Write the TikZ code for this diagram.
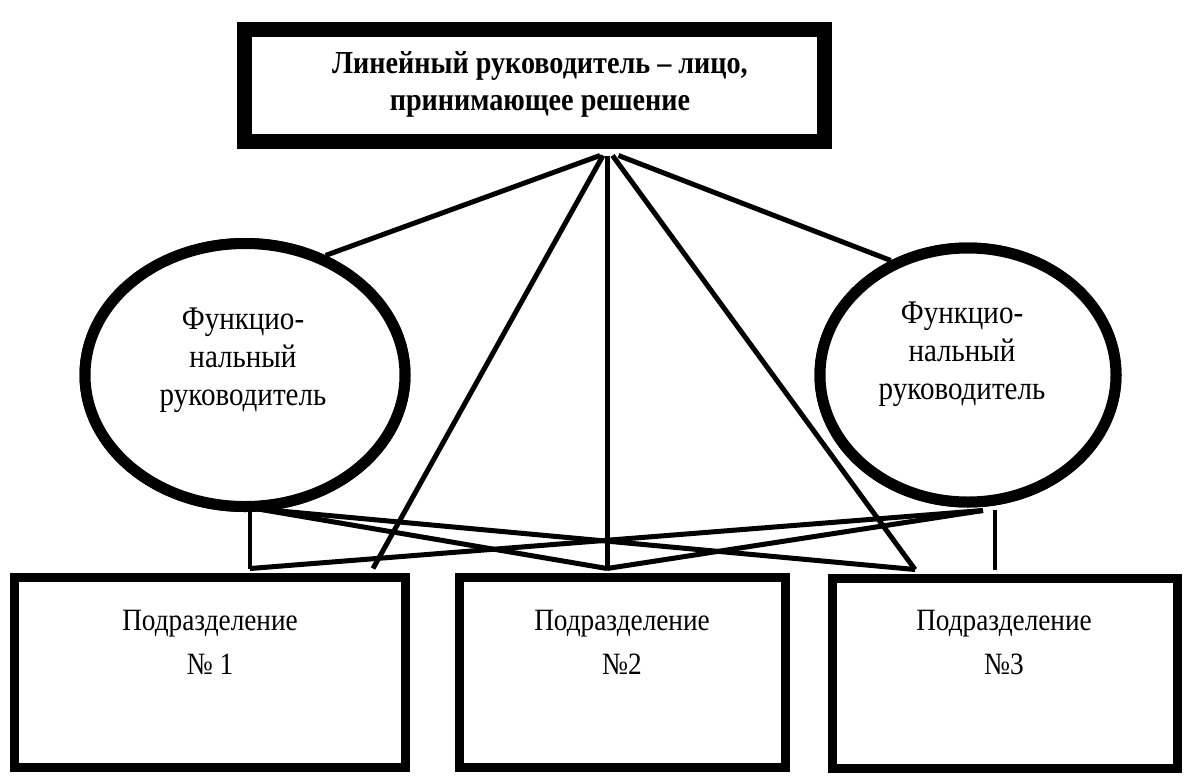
\documentclass[tikz,border=0pt]{standalone}
\usepackage{fontspec}
\setmainfont{Liberation Serif}[FakeStretch=0.88]
\usetikzlibrary{shapes.geometric}
\begin{document}
\begin{tikzpicture}[x=1pt,y=-1pt,
  topbox/.style={draw,line width=15pt,minimum width=580pt,minimum height=112pt,inner sep=0pt,fill=white},
  unitbox/.style={draw,line width=9pt,minimum height=190pt,inner sep=0pt,fill=white},
  fellipse/.style={draw,ellipse,line width=11pt,inner sep=0pt,fill=white},
  toptext/.style={align=center,font=\fontsize{32}{37}\selectfont\bfseries},
  ftext/.style={align=center,font=\fontsize{33}{38}\selectfont},
  utext/.style={align=center,font=\fontsize{31}{44}\selectfont},
  conn/.style={line width=5pt},
  vconn/.style={line width=4pt}]
\useasboundingbox (0,0) rectangle (1192,777);
% node outlines (placed first, so connectors can be drawn between them)
\path (534.5,85) node[topbox] (top) {};
\path (245,375) node[fellipse,minimum width=320pt,minimum height=263pt] (le) {};
\path (968,375) node[fellipse,minimum width=296pt,minimum height=254pt] (re) {};
\path (210,672) node[unitbox,minimum width=391pt] (b1) {};
\path (622.5,672) node[unitbox,minimum width=326pt] (b2) {};
\path (1005,673) node[unitbox,minimum width=345pt] (b3) {};
% connectors
\draw[conn] ([xshift=65.5pt,yshift=-7pt]top.south) -- (le.56);
\draw[conn] ([xshift=68.5pt,yshift=-7pt]top.south) -- ([xshift=163pt,yshift=4pt]b1.north);
\draw[conn] ([xshift=72.5pt,yshift=-7pt]top.south) -- ([xshift=-15.5pt,yshift=4pt]b2.north);
\draw[conn] ([xshift=78pt,yshift=-7pt]top.south) -- ([xshift=-90pt,yshift=4pt]b3.north);
\draw[conn] ([xshift=84pt,yshift=-7pt]top.south) -- (re.124);
\draw[vconn] ([xshift=5pt]le.south) -- ([xshift=40pt,yshift=4pt]b1.north);
\draw[conn] ([xshift=13pt,yshift=3pt]le.south) -- ([xshift=-15.5pt,yshift=4pt]b2.north);
\draw[conn] ([xshift=13pt,yshift=3pt]le.south) -- ([xshift=-90pt,yshift=4pt]b3.north);
\draw[vconn] ([xshift=27pt,yshift=-2pt]re.south) -- ([xshift=-10pt,yshift=4pt]b3.north);
\draw[conn] ([xshift=15pt,yshift=-3pt]re.south) -- ([xshift=40pt,yshift=4pt]b1.north);
\draw[conn] ([xshift=15pt,yshift=-3pt]re.south) -- ([xshift=-15.5pt,yshift=4pt]b2.north);
% shapes redrawn over the connector ends
\node[topbox] at (top) {};
\node[fellipse,minimum width=320pt,minimum height=263pt] at (le) {};
\node[fellipse,minimum width=296pt,minimum height=254pt] at (re) {};
\node[unitbox,minimum width=391pt] at (b1) {};
\node[unitbox,minimum width=326pt] at (b2) {};
\node[unitbox,minimum width=345pt] at (b3) {};
% texts
\node[toptext] (toplabel) at (540,84) {Линейный руководитель – лицо,\\принимающее решение};
\node[ftext] (lelabel) at (243,360) {Функцио-\\нальный\\руководитель};
\node[ftext] (relabel) at (962,354) {Функцио-\\нальный\\руководитель};
\node[utext] (b1label) at (210,642) {Подразделение\\№ 1};
\node[utext] (b2label) at (622,642) {Подразделение\\№2};
\node[utext] (b3label) at (1004,642) {Подразделение\\№3};
\end{tikzpicture}
\end{document}
